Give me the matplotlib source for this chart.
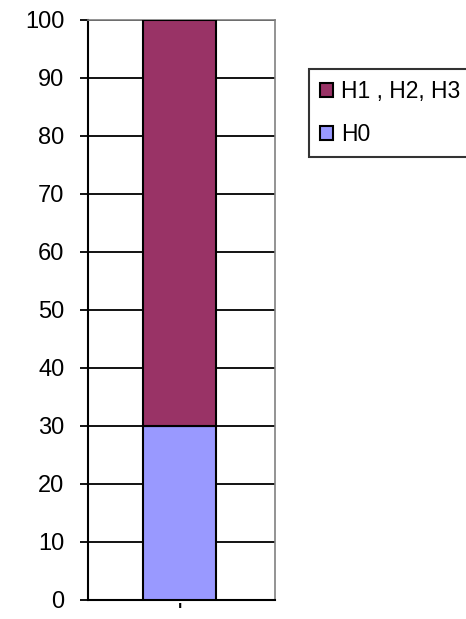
import matplotlib
matplotlib.use("agg")
import matplotlib.pyplot as plt

# stacked shares (percent)
categories = ["'"]
h0 = [30]
h123 = [70]
labels = ["H0", "H1 , H2, H3"]

plt.rcParams['font.family'] = ['Liberation Sans', 'DejaVu Sans']

fig = plt.figure(figsize=(4.66, 6.19), dpi=100)
ax = fig.add_axes([0.189, 0.031, 0.401, 0.937])

x = range(len(categories))
b0 = ax.bar(x, h0, width=0.78, color='#9999ff', edgecolor='black', linewidth=1.5, zorder=3)
b1 = ax.bar(x, h123, bottom=h0, width=0.78, color='#993366', edgecolor='black', linewidth=1.5, zorder=3)

ax.set_xlim(-0.98, 1.02)
ax.set_ylim(0, 100)
ax.set_yticks(range(0, 101, 10))
ax.set_xticks(list(x))
ax.set_xticklabels(categories, fontsize=13, fontweight='bold')
ax.tick_params(axis='x', length=0, pad=2)
ax.tick_params(axis='y', length=6, width=1.3, labelsize=17, pad=11)
ax.grid(axis='y', color='black', linewidth=1.3, zorder=0)
ax.set_axisbelow(True)

for side in ['left', 'bottom']:
    ax.spines[side].set_color('black')
    ax.spines[side].set_linewidth(1.5)
ax.spines['right'].set_color('#808080')
ax.spines['top'].set_color('#808080')
ax.spines['right'].set_linewidth(1.2)
ax.spines['top'].set_linewidth(1.2)

leg = fig.legend([b1, b0], [labels[1], labels[0]],
                 loc='upper left', bbox_to_anchor=(0.663, 0.8885),
                 borderaxespad=0, fontsize=16.5, handlelength=0.55,
                 handleheight=0.55, handletextpad=0.35, labelspacing=0.85,
                 borderpad=0.5, fancybox=False, frameon=True)
leg.get_frame().set_edgecolor('black')
leg.get_frame().set_linewidth(1.5)

plt.savefig('out.png', dpi=100)
plt.close()
